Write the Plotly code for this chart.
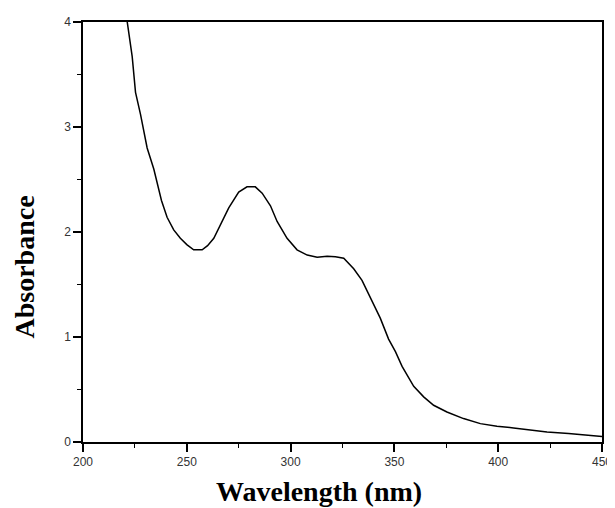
import plotly.graph_objects as go

wavelength = [219, 221.3, 223.7, 225.3, 227.7, 230.9, 234.1, 237.8, 240.5, 243.7,
              246.9, 250, 253.3, 257.4, 260, 263, 267, 270.2, 275, 279,
              283, 286.3, 290.3, 293.5, 298.3, 303.1, 308, 312.8, 317.6, 321.6,
              325.6, 330.4, 334.4, 338.4, 343.2, 347.2, 350.5, 353.7, 359.3, 364.1,
              368.9, 375.3, 383.3, 391.4, 399.4, 407.4, 415.5, 423.5, 433.9, 449.2, 450]
absorbance = [4.32, 4.0, 3.67, 3.33, 3.12, 2.80, 2.60, 2.30, 2.14, 2.02,
              1.94, 1.88, 1.83, 1.83, 1.87, 1.94, 2.10, 2.23, 2.38, 2.43,
              2.43, 2.37, 2.25, 2.10, 1.94, 1.83, 1.78, 1.76, 1.77, 1.765,
              1.75, 1.65, 1.54, 1.38, 1.18, 0.98, 0.86, 0.72, 0.53, 0.43,
              0.35, 0.286, 0.223, 0.175, 0.15, 0.134, 0.112, 0.095, 0.08, 0.054, 0.053]

x_title = "Wavelength (nm)"
y_title = "Absorbance"

# page has an 8px body margin; figure sized so it fills the 615x508 window
W, H = 607, 500
L, T, PW, PH = 75, 14, 519, 420

fig = go.Figure()
fig.add_trace(go.Scatter(x=wavelength, y=absorbance, mode="lines",
                         line=dict(color="black", width=1.5), showlegend=False))

axis_common = dict(
    showgrid=False, zeroline=False, showline=True, mirror=True,
    linecolor="black", linewidth=1.5,
    ticks="outside", ticklen=8, tickwidth=1.5, tickcolor="black",
    tickfont=dict(family="Liberation Sans, Arial", size=12, color="#333"),
    automargin=False, ticklabeloverflow="allow",
)

fig.update_layout(
    width=W, height=H,
    margin=dict(l=L, r=W - L - PW, t=T, b=H - T - PH, autoexpand=False),
    paper_bgcolor="white", plot_bgcolor="white",
    xaxis=dict(range=[200, 450], dtick=50, tick0=200,
               minor=dict(dtick=25, ticklen=4, ticks="outside", tickcolor="black", tickwidth=1.2),
               **axis_common),
    yaxis=dict(range=[0, 4], dtick=1, tick0=0,
               minor=dict(dtick=0.5, ticklen=4, ticks="outside", tickcolor="black", tickwidth=1.2),
               **axis_common),
    annotations=[
        dict(text="<b>" + x_title + "</b>", xref="paper", yref="paper",
             x=(311 - L) / PW, y=-(483 - (T + PH)) / PH,
             xanchor="center", yanchor="middle", showarrow=False,
             font=dict(family="Liberation Serif, Times New Roman", size=28, color="black")),
        dict(text="<b>" + y_title + "</b>", xref="paper", yref="paper",
             x=-(L - 16) / PW, y=((T + PH) - 259.5) / PH,
             xanchor="center", yanchor="middle", showarrow=False, textangle=-90,
             font=dict(family="Liberation Serif, Times New Roman", size=28, color="black")),
    ],
)

fig.write_html("out.html")
